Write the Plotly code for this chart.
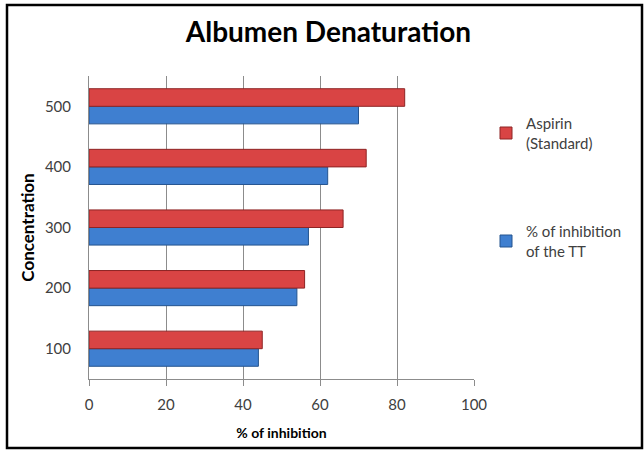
import plotly.graph_objects as go

concentrations = ["100", "200", "300", "400", "500"]
aspirin_standard = [45, 56, 66, 72, 82]
inhibition_tt = [44, 54, 57, 62, 70]
x_ticks = [0, 20, 40, 60, 80, 100]

FONT = "Lato, Open Sans, sans-serif"
L, R, T, B = 89, 170, 76, 71
W, H = 644, 450
pw, ph = W - L - R, H - T - B

fig = go.Figure()
fig.add_trace(go.Bar(
    y=concentrations, x=inhibition_tt, orientation="h",
    name="% of inhibition<br>of the TT",
    marker=dict(color="#3F7FD0", line=dict(color="#24548F", width=1)),
    legend="legend2", showlegend=True,
))
fig.add_trace(go.Bar(
    y=concentrations, x=aspirin_standard, orientation="h",
    name="Aspirin<br>(Standard)",
    marker=dict(color="#D94444", line=dict(color="#8E2424", width=1)),
    legend="legend", showlegend=True,
))

def px_to_paper_x(px):
    return (px - L) / pw

def px_to_paper_y(py):
    return (H - B - py) / ph

fig.update_layout(
    width=W, height=H, showlegend=True,
    margin=dict(l=L, r=R, t=T, b=B, autoexpand=False),
    paper_bgcolor="white", plot_bgcolor="white",
    barmode="group", bargap=0.42, bargroupgap=0.0,
    font=dict(family=FONT, size=15, color="#404040"),
    title=dict(text="<b>Albumen Denaturation</b>", x=0.51, xanchor="center",
               y=1 - 32 / H, yanchor="middle",
               font=dict(family=FONT, size=28, color="black")),
    xaxis=dict(range=[0, 100], tickvals=x_ticks, showgrid=True, gridcolor="#8C8C8C",
               gridwidth=1, showline=True, linecolor="#8C8C8C", linewidth=1,
               ticks="outside", ticklen=6, tickcolor="#8C8C8C", automargin=False,
               ticklabelstandoff=6,
               tickfont=dict(size=15, color="#404040"), zeroline=False,
               title=dict(text="<b>% of inhibition</b>", standoff=16,
                          font=dict(size=14, color="black"))),
    yaxis=dict(type="category", categoryorder="array", categoryarray=concentrations,
               showline=True, linecolor="#8C8C8C", linewidth=1, ticks="",
               ticklabelstandoff=14, automargin=False,
               tickfont=dict(size=15, color="#404040"),
               title=dict(text="<b>Concentration</b>", standoff=5,
                          font=dict(size=17, color="black"))),
    legend=dict(x=px_to_paper_x(486), y=px_to_paper_y(107), xanchor="left", yanchor="top",
                bgcolor="rgba(0,0,0,0)", font=dict(size=15, color="#404040"),
                itemwidth=30),
    legend2=dict(x=px_to_paper_x(486), y=px_to_paper_y(215), xanchor="left", yanchor="top",
                 bgcolor="rgba(0,0,0,0)", font=dict(size=15, color="#404040"),
                 itemwidth=30),
    shapes=[dict(type="rect", xref="paper", yref="paper",
                 x0=px_to_paper_x(7), x1=px_to_paper_x(642),
                 y0=px_to_paper_y(448), y1=px_to_paper_y(5),
                 line=dict(color="black", width=2.5), fillcolor="rgba(0,0,0,0)", layer="above")],
)

fig.write_html("out.html", config={"displayModeBar": False},
               post_script="document.body.style.margin='0';")
